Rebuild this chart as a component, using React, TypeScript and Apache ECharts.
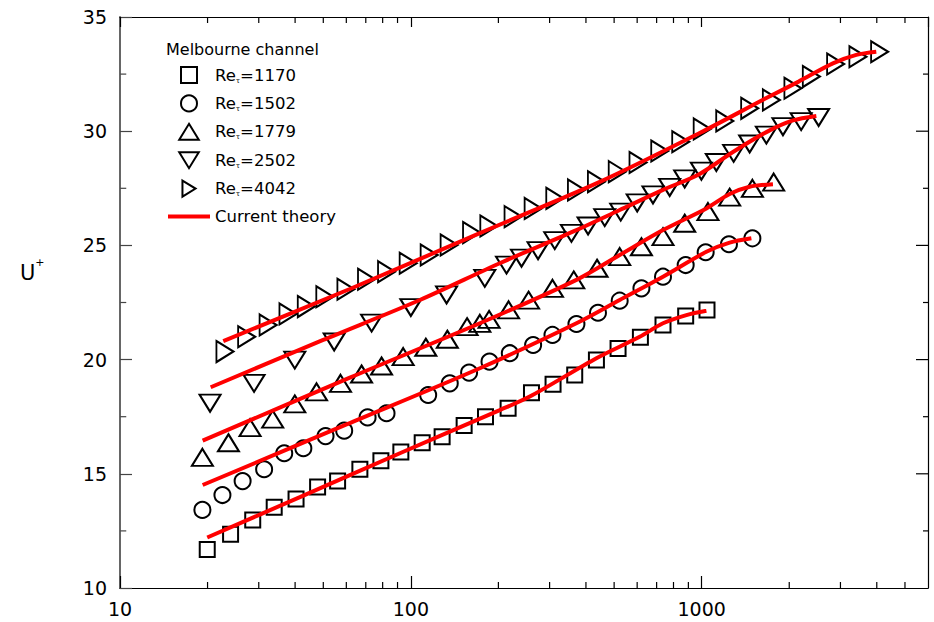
import React, { useEffect, useRef } from 'react';
import * as echarts from 'echarts';

const FONT = 'DejaVu Sans';

// Melbourne channel data (x = y+, y = U+)
const sq1170X = [19.95, 24.0, 28.6, 33.9, 40.3, 47.8, 56.0, 66.8, 78.9, 92.4, 109.4, 128.1, 152.5, 180.6, 216, 259.9, 308.3, 366, 434.6, 515.8, 615.6, 736.2, 881, 1043];
const sq1170Y = [11.69, 12.35, 12.98, 13.53, 13.9, 14.42, 14.68, 15.2, 15.57, 15.95, 16.36, 16.62, 17.12, 17.5, 17.87, 18.55, 18.92, 19.33, 19.98, 20.49, 20.98, 21.52, 21.91, 22.17];

const c1502X = [19.2, 22.5, 26.4, 31.3, 36.7, 42.7, 50.9, 59.0, 71.0, 82.5, 114.7, 136.1, 158.6, 186.4, 218.9, 263.3, 306.9, 371, 440, 522.5, 620.6, 736.2, 881, 1032, 1241, 1494];
const c1502Y = [13.42, 14.07, 14.68, 15.2, 15.9, 16.12, 16.65, 16.89, 17.47, 17.65, 18.45, 18.96, 19.43, 19.91, 20.28, 20.64, 21.08, 21.56, 22.05, 22.58, 23.12, 23.63, 24.14, 24.7, 25.05, 25.31];

const t1779X = [19.2, 23.6, 28.0, 33.5, 39.9, 47.4, 57.3, 67.7, 79.3, 94.1, 112.6, 133.5, 156.1, 172.7, 185.8, 216.8, 254.0, 306.9, 363.2, 436.8, 522.5, 620.6, 736.2, 874.2, 1051, 1248, 1494, 1768];
const t1779Y = [15.72, 16.36, 17.02, 17.39, 18.06, 18.59, 18.96, 19.37, 19.72, 20.13, 20.54, 20.89, 21.44, 21.59, 21.76, 22.18, 22.6, 23.12, 23.49, 24.0, 24.51, 24.94, 25.38, 25.97, 26.48, 27.11, 27.5, 27.77];

const d2502X = [20.4, 28.9, 39.9, 54.5, 73.3, 100, 132.7, 179.6, 213.3, 240.2, 273.8, 312.5, 356.6, 406.8, 464.2, 526.8, 600.2, 680.1, 776.2, 874.2, 997.7, 1123, 1288, 1462, 1669, 1903, 2198, 2524];
const d2502Y = [18.09, 18.96, 19.98, 20.77, 21.6, 22.28, 22.83, 23.56, 24.14, 24.44, 24.77, 25.21, 25.53, 25.85, 26.22, 26.46, 26.86, 27.21, 27.54, 27.91, 28.25, 28.63, 29.03, 29.44, 29.83, 30.2, 30.42, 30.6];

const r4042X = [22.95, 27.25, 32.3, 37.8, 43.7, 50.6, 59.8, 70.4, 82.5, 97.9, 115.6, 135.4, 161.7, 185.4, 224.6, 263.3, 312.5, 371, 434.6, 512.4, 604, 717.4, 847, 1004, 1200, 1462, 1736, 2059, 2382, 2887, 3444, 4090];
const r4042Y = [20.35, 21.0, 21.52, 22.0, 22.32, 22.75, 23.08, 23.52, 23.85, 24.22, 24.58, 25.02, 25.56, 25.85, 26.26, 26.62, 27.06, 27.43, 27.79, 28.23, 28.63, 29.13, 29.54, 30.1, 30.45, 31.0, 31.37, 31.88, 32.39, 32.94, 33.26, 33.48];

// Current theory curves
const th1170X = [19.95, 41.55, 91.7, 202.2, 256.4, 434.6, 612.2, 736.2, 886, 1038];
const th1170Y = [12.21, 13.98, 15.9, 17.79, 18.38, 20.06, 21.0, 21.59, 21.95, 22.14];
const th1502X = [19.24, 60.1, 172.7, 371, 522.5, 736.2, 1038, 1248, 1482];
const th1502Y = [14.51, 17.16, 19.62, 21.59, 22.61, 23.63, 24.72, 25.12, 25.31];
const th1779X = [19.24, 61.7, 172.7, 371, 522.5, 736.2, 1038, 1248, 1462, 1758];
const th1779Y = [16.45, 19.21, 21.59, 23.49, 24.58, 25.67, 26.62, 27.25, 27.57, 27.68];
const th2502X = [20.5, 49.96, 107.4, 202.2, 371, 522.5, 736.2, 984, 1281, 1669, 2059, 2479];
const th2502Y = [18.79, 20.86, 22.61, 24.22, 25.67, 26.55, 27.43, 28.13, 29.09, 29.96, 30.47, 30.67];
const th4042X = [22.65, 61.7, 172.7, 446.2, 984, 1669, 2154, 2826, 3401, 3984];
const th4042Y = [20.81, 23.09, 25.54, 27.78, 29.92, 31.45, 32.17, 32.97, 33.34, 33.48];

const seriesNames = ['Reτ=1170', 'Reτ=1502', 'Reτ=1779', 'Reτ=2502', 'Reτ=4042'];
const theoryName = 'Current theory';

const xMin = 10;
const xMax = 6000;
const yMin = 10;
const yMax = 35;
const yInterval = 5;
const xMinorTicks = [20, 30, 40, 50, 60, 70, 80, 90, 200, 300, 400, 500, 600, 700, 800, 900, 2000, 3000, 4000, 5000];
const yMajorTicks = [15, 20, 25, 30];
const yMinorTicks = [12.5, 17.5, 22.5, 27.5, 32.5];
const xLeftEdge = 10.02;

const zip = (xs: number[], ys: number[]) => xs.map((x, i) => [x, ys[i]]);

const SYM_SQUARE = 'path://M0,0 L14,0 L14,14 L0,14 Z';
const SYM_UP = 'path://M11,0 L22,18 L0,18 Z';
const SYM_DOWN = 'path://M0,0 L22,0 L11,18 Z';
const SYM_RIGHT = 'path://M0,0 L18,11 L0,22 Z';
const SYM_LINE = 'path://M0,0 L42,0 L42,4 L0,4 Z';

const scatterDefs = [
  { name: seriesNames[0], data: zip(sq1170X, sq1170Y), symbol: 'rect', size: [15, 15], icon: SYM_SQUARE },
  { name: seriesNames[1], data: zip(c1502X, c1502Y), symbol: 'circle', size: 16, icon: 'circle' },
  { name: seriesNames[2], data: zip(t1779X, t1779Y), symbol: 'triangle', size: [21, 17], icon: SYM_UP },
  { name: seriesNames[3], data: zip(d2502X, d2502Y), symbol: SYM_DOWN, size: [21, 17], icon: SYM_DOWN },
  { name: seriesNames[4], data: zip(r4042X, r4042Y), symbol: SYM_RIGHT, size: [17, 21], icon: SYM_RIGHT },
];

const theoryDefs = [
  zip(th1170X, th1170Y),
  zip(th1502X, th1502Y),
  zip(th1779X, th1779Y),
  zip(th2502X, th2502Y),
  zip(th4042X, th4042Y),
];

function buildOption(): any {
  const baseX = {
    type: 'log',
    logBase: 10,
    min: xMin,
    max: xMax,
    splitLine: { show: false },
    minorTick: { show: false },
  };
  const baseY = {
    type: 'value',
    min: yMin,
    max: yMax,
    interval: yInterval,
    splitLine: { show: false },
    minorTick: { show: false },
  };
  const tickMark = (name: string, data: number[][], size: number[], offset: number[], color: string) => ({
    type: 'scatter',
    name,
    xAxisIndex: 0,
    yAxisIndex: 0,
    silent: true,
    clip: false,
    z: 4,
    data,
    symbol: 'rect',
    symbolSize: size,
    symbolOffset: offset,
    itemStyle: { color, borderWidth: 0, opacity: 1 },
    emphasis: { disabled: true },
  });
  return {
    animation: false,
    backgroundColor: '#ffffff',
    textStyle: { fontFamily: FONT },
    grid: { left: 120, right: 6, top: 17, bottom: 34, containLabel: false },
    title: {
      text: 'Melbourne channel',
      left: 166,
      top: 41,
      padding: 0,
      textStyle: { fontFamily: FONT, fontSize: 16, fontWeight: 'normal', color: '#000' },
    },
    legend: {
      data: [
        ...scatterDefs.map((d) => ({ name: d.name, icon: d.icon })),
        { name: theoryName, icon: SYM_LINE, itemStyle: { color: '#ff0000', borderWidth: 0 } },
      ],
      orient: 'vertical',
      left: 168,
      top: 66,
      padding: 0,
      itemWidth: 42,
      itemHeight: 16,
      itemGap: 10.4,
      symbolKeepAspect: true,
      textStyle: {
        fontFamily: FONT,
        fontSize: 16,
        color: '#000',
        rich: {
          r: { fontFamily: FONT, fontSize: 16.5, color: '#000', lineHeight: 18 },
          s: { fontFamily: FONT, fontSize: 7, color: '#000', lineHeight: 7, verticalAlign: 'bottom' },
        },
      },
      formatter: (name: string) =>
        name.startsWith('Reτ') ? `{r|Re}{s|τ}{r|${name.slice(3)}}` : `{r|${name}}`,
    },
    graphic: [
      {
        type: 'text',
        left: 20,
        top: 257,
        style: {
          text: '{u|U}{p|+}',
          rich: {
            u: { fontFamily: FONT, fontSize: 21, fill: '#000', color: '#000', lineHeight: 26, verticalAlign: 'bottom' },
            p: { fontFamily: FONT, fontSize: 11, fill: '#000', color: '#000', lineHeight: 26, verticalAlign: 'top' },
          },
        },
      },
    ],
    xAxis: [
      {
        ...baseX,
        position: 'bottom',
        axisLine: { show: true, lineStyle: { color: '#000', width: 1.2 } },
        axisTick: { show: true, inside: true, length: 12, lineStyle: { color: '#000', width: 1.2 } },
        axisLabel: {
          show: true,
          margin: 11,
          fontFamily: FONT,
          fontSize: 19,
          color: '#000',
          showMaxLabel: false,
          formatter: (v: number) => String(Math.round(v)),
        },
      },
      {
        ...baseX,
        position: 'top',
        axisLine: { show: true, lineStyle: { color: '#000', width: 1.2 } },
        axisTick: { show: true, inside: true, length: 10, lineStyle: { color: '#000', width: 1.2 } },
        axisLabel: { show: false },
      },
    ],
    yAxis: [
      {
        ...baseY,
        position: 'left',
        axisLine: { show: true, lineStyle: { color: '#666', width: 2 } },
        axisTick: { show: true, inside: true, length: 12, lineStyle: { color: '#444', width: 1.2 } },
        axisLabel: { show: true, margin: 13, fontFamily: FONT, fontSize: 19, color: '#000' },
      },
      {
        ...baseY,
        position: 'right',
        axisTick: { show: false },
        axisLine: { show: true, lineStyle: { color: '#000', width: 1.2 } },
        axisLabel: { show: false },
      },
    ],
    series: [
      tickMark('xMinorBottom', xMinorTicks.map((v) => [v, yMin]), [1.2, 6], [0, -3], '#000'),
      tickMark('xMinorTop', xMinorTicks.map((v) => [v, yMax]), [1.2, 6], [0, 3], '#000'),
      tickMark('yMinorLeft', yMinorTicks.map((v) => [xLeftEdge, v]), [6, 1.2], [3, 0], '#444'),
      tickMark('yMajorRight', yMajorTicks.map((v) => [xMax, v]), [12, 1.2], [-6, 0], '#000'),
      tickMark('yMinorRight', yMinorTicks.map((v) => [xMax, v]), [5, 1.2], [-2.5, 0], '#000'),
      ...scatterDefs.map((d) => ({
        type: 'scatter',
        name: d.name,
        data: d.data,
        symbol: d.symbol,
        symbolSize: d.size,
        z: 2,
        itemStyle: { color: 'rgba(255,255,255,0)', borderColor: '#000', borderWidth: 2, opacity: 1 },
      })),
      ...theoryDefs.map((data) => ({
        type: 'line',
        name: theoryName,
        data,
        smooth: 0.3,
        symbol: 'none',
        showSymbol: false,
        z: 3,
        lineStyle: { color: '#ff0000', width: 4 },
        itemStyle: { color: '#ff0000' },
      })),
    ],
  };
}

export default function App() {
  const ref = useRef<HTMLDivElement>(null);
  useEffect(() => {
    if (!ref.current) return;
    const chart = echarts.init(ref.current, null, { renderer: 'svg' });
    chart.setOption(buildOption());
    return () => {
      chart.dispose();
    };
  }, []);
  return (
    <div
      ref={ref}
      style={{ position: 'fixed', left: 0, top: 0, width: 934, height: 622, background: '#fff' }}
    />
  );
}
